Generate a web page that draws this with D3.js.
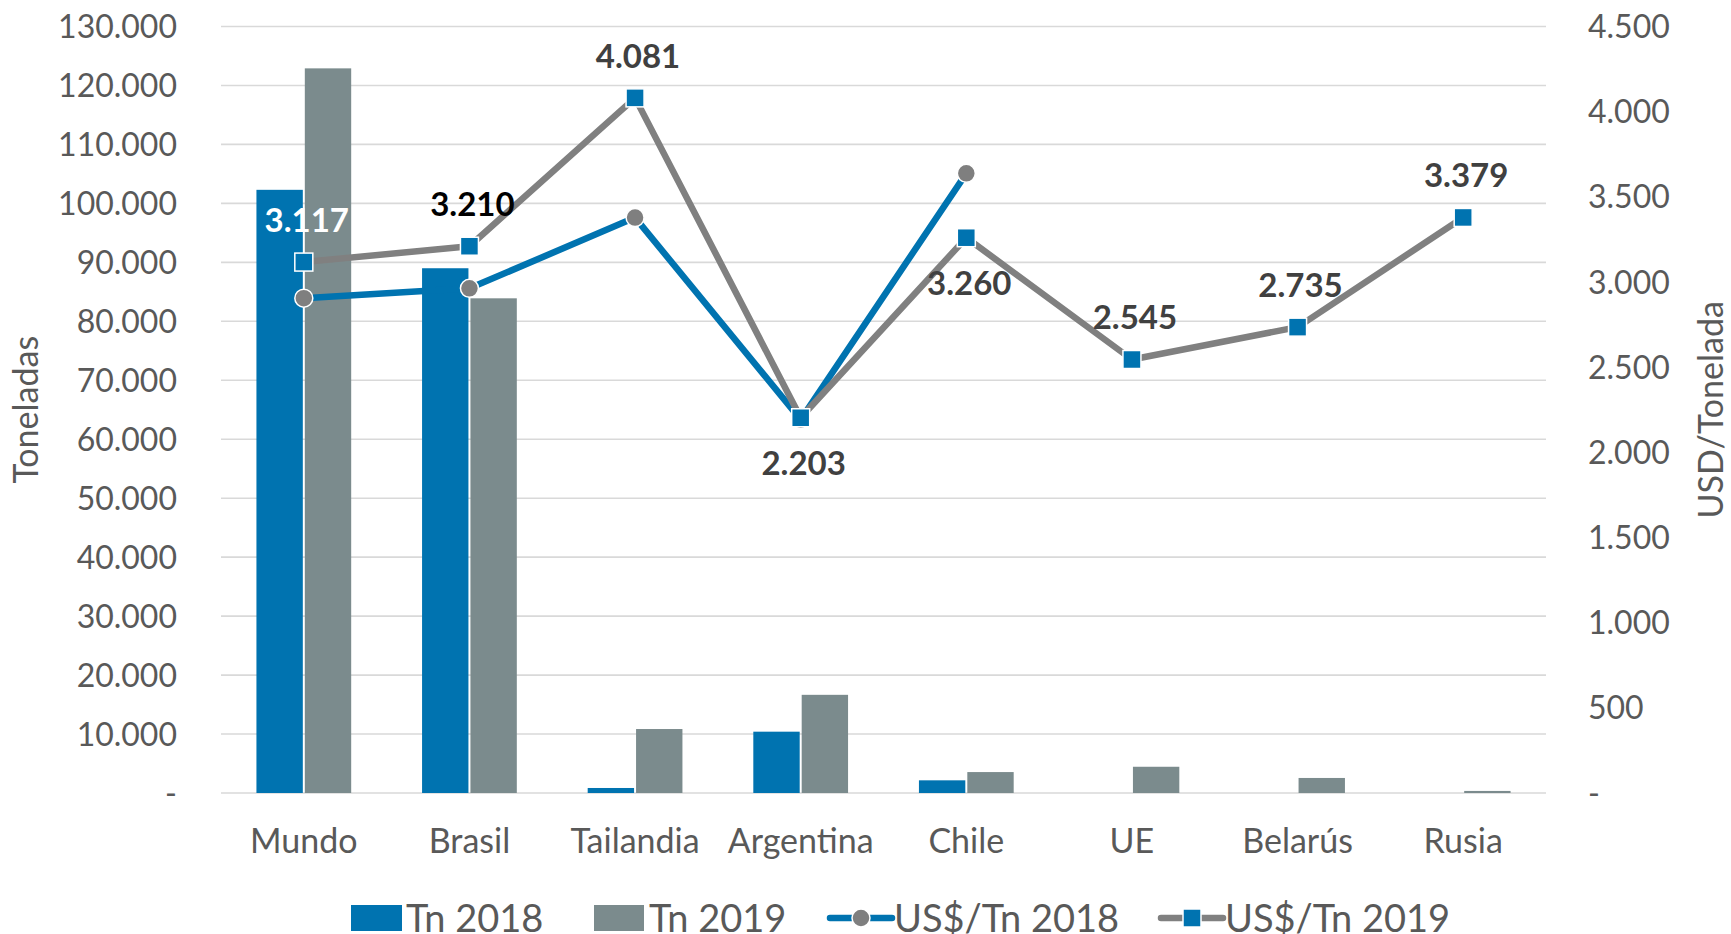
<!DOCTYPE html>
<html>
<head>
<meta charset="utf-8">
<script src="https://cdn.jsdelivr.net/npm/d3@7"></script>
<style>
  html, body { margin: 0; padding: 0; background: #fff; }
  svg { display: block; font-family: Lato, "Open Sans", sans-serif; }
</style>
</head>
<body>
<svg id="chart" width="1731" height="934"></svg>
<script>
// data
var categories = ["Mundo", "Brasil", "Tailandia", "Argentina", "Chile", "UE", "Belarús", "Rusia"];
var tn2018 = [102300, 89000, 850, 10400, 2150, 0, 0, 0];
var tn2019 = [122900, 83900, 10850, 16650, 3550, 4450, 2550, 350];
var usd2018 = [2905, 2963, 3378, 2192, 3638, null, null, null];
var usd2019 = [3117, 3210, 4081, 2203, 3260, 2545, 2735, 3379];
var leftTicks = d3.range(0, 130001, 10000);
var rightTicks = d3.range(0, 4501, 500);

var blue = "#0073B0",
    barGray = "#7B8B8D",
    lineGray = "#808080",
    textGray = "#595959";

var svg = d3.select("#chart");
var plotL = 221, plotR = 1546, plotT = 26.5, plotB = 793;

var locale = d3.formatLocale({ decimal: ",", thousands: ".", grouping: [3], currency: ["$", ""] });
var fmt = locale.format(",d");
function tickFmt(v) { return v === 0 ? "-" : fmt(v); }

var x = d3.scaleBand().domain(categories).range([plotL, plotR]);
var yL = d3.scaleLinear().domain([0, 130000]).range([plotB, plotT]);
var yR = d3.scaleLinear().domain([0, 4500]).range([plotB, plotT]);

var barW = x.bandwidth() * 0.28;

/* gridlines */
svg.append("g").selectAll("line")
    .data(leftTicks)
    .join("line")
    .attr("x1", plotL).attr("x2", plotR)
    .attr("y1", function(d) { return yL(d); })
    .attr("y2", function(d) { return yL(d); })
    .attr("stroke", "#D9D9D9")
    .attr("stroke-width", 1.6);

/* left axis labels */
svg.append("g").selectAll("text")
    .data(leftTicks)
    .join("text")
    .attr("x", 177)
    .attr("y", function(d) { return yL(d); })
    .attr("dy", "0.36em")
    .attr("text-anchor", "end")
    .attr("font-size", 32)
    .attr("fill", textGray)
    .text(tickFmt);

/* right axis labels */
svg.append("g").selectAll("text")
    .data(rightTicks)
    .join("text")
    .attr("x", 1588)
    .attr("y", function(d) { return yR(d); })
    .attr("dy", "0.36em")
    .attr("text-anchor", "start")
    .attr("font-size", 32)
    .attr("fill", textGray)
    .text(tickFmt);

/* category labels */
svg.append("g").selectAll("text")
    .data(categories)
    .join("text")
    .attr("x", function(d) { return x(d) + x.bandwidth() / 2; })
    .attr("y", 853)
    .attr("text-anchor", "middle")
    .attr("font-size", 34)
    .attr("fill", textGray)
    .text(function(d) { return d; });

/* axis titles */
svg.append("text")
    .attr("transform", "translate(38," + (plotT + plotB) / 2 + ") rotate(-90)")
    .attr("text-anchor", "middle")
    .attr("font-size", 34)
    .attr("fill", textGray)
    .text("Toneladas");
svg.append("text")
    .attr("transform", "translate(1723," + (plotT + plotB) / 2 + ") rotate(-90)")
    .attr("text-anchor", "middle")
    .attr("font-size", 34)
    .attr("fill", textGray)
    .text("USD/Tonelada");

/* bars */
function cx(i) { return x(categories[i]) + x.bandwidth() / 2; }

function drawBars(values, color, side) {
    svg.append("g").selectAll("rect")
        .data(values)
        .join("rect")
        .attr("x", function(d, i) { return side < 0 ? cx(i) - 1 - barW : cx(i) + 1; })
        .attr("y", function(d) { return yL(d); })
        .attr("width", barW)
        .attr("height", function(d) { return plotB - yL(d); })
        .attr("fill", color);
}
drawBars(tn2018, blue, -1);
drawBars(tn2019, barGray, 1);

/* lines */
var line = d3.line()
    .defined(function(d) { return d != null; })
    .x(function(d, i) { return cx(i); })
    .y(function(d) { return yR(d); });

svg.append("path")
    .datum(usd2018)
    .attr("d", line)
    .attr("fill", "none")
    .attr("stroke", blue)
    .attr("stroke-width", 6.5)
    .attr("stroke-linejoin", "round");

svg.append("g").selectAll("circle")
    .data(usd2018.map(function(d, i) { return { v: d, i: i }; }).filter(function(d) { return d.v != null; }))
    .join("circle")
    .attr("cx", function(d) { return cx(d.i); })
    .attr("cy", function(d) { return yR(d.v); })
    .attr("r", 9)
    .attr("fill", "#7F7F7F")
    .attr("stroke", "#fff")
    .attr("stroke-width", 1.5);

svg.append("path")
    .datum(usd2019)
    .attr("d", line)
    .attr("fill", "none")
    .attr("stroke", lineGray)
    .attr("stroke-width", 6.5)
    .attr("stroke-linejoin", "round");

svg.append("g").selectAll("rect")
    .data(usd2019)
    .join("rect")
    .attr("x", function(d, i) { return cx(i) - 9; })
    .attr("y", function(d) { return yR(d) - 9; })
    .attr("width", 18)
    .attr("height", 18)
    .attr("fill", blue)
    .attr("stroke", "#fff")
    .attr("stroke-width", 1.5);

/* data labels for 2019 price */
var below = { "Argentina": true, "Chile": true };
svg.append("g").selectAll("text")
    .data(usd2019)
    .join("text")
    .attr("x", function(d, i) { return cx(i) + 3; })
    .attr("y", function(d, i) { return yR(d) + (below[categories[i]] ? 45 : -42); })
    .attr("dy", "0.36em")
    .attr("text-anchor", "middle")
    .attr("font-size", 33)
    .attr("font-weight", "bold")
    .attr("fill", function(d, i) { return i === 0 ? "#fff" : (i === 1 ? "#000" : "#404040"); })
    .text(function(d) { return fmt(d); });

/* legend */
var legend = svg.append("g").attr("font-size", 38).attr("fill", textGray);
var ly = 918;
legend.append("rect").attr("x", 351).attr("y", ly - 13).attr("width", 51).attr("height", 26).attr("fill", blue);
legend.append("text").attr("x", 406).attr("y", 932).text("Tn 2018");
legend.append("rect").attr("x", 594).attr("y", ly - 13).attr("width", 50).attr("height", 26).attr("fill", barGray);
legend.append("text").attr("x", 649).attr("y", 932).text("Tn 2019");

legend.append("line").attr("x1", 830).attr("x2", 892).attr("y1", ly).attr("y2", ly)
    .attr("stroke", blue).attr("stroke-width", 6.5).attr("stroke-linecap", "round");
legend.append("circle").attr("cx", 861).attr("cy", ly).attr("r", 9)
    .attr("fill", "#7F7F7F").attr("stroke", "#fff").attr("stroke-width", 1.5);
legend.append("text").attr("x", 894).attr("y", 932).text("US$/Tn 2018");

legend.append("line").attr("x1", 1161).attr("x2", 1223).attr("y1", ly).attr("y2", ly)
    .attr("stroke", lineGray).attr("stroke-width", 6.5).attr("stroke-linecap", "round");
legend.append("rect").attr("x", 1183).attr("y", ly - 9).attr("width", 18).attr("height", 18)
    .attr("fill", blue).attr("stroke", "#fff").attr("stroke-width", 1.5);
legend.append("text").attr("x", 1225).attr("y", 932).text("US$/Tn 2019");
</script>
</body>
</html>
